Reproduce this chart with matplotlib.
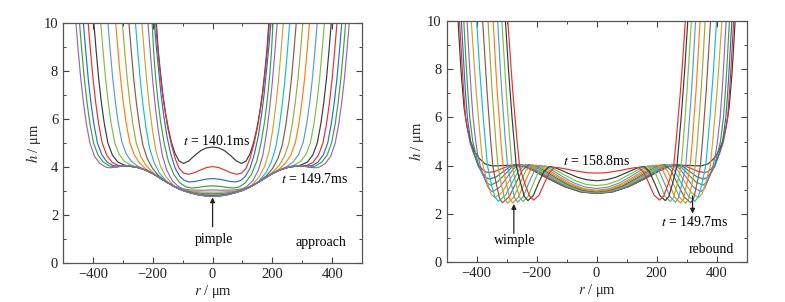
import numpy as np
import matplotlib
matplotlib.use('Agg')
import matplotlib.pyplot as plt
from matplotlib.ticker import MultipleLocator

plt.rcParams['font.family'] = ['Liberation Serif', 'DejaVu Serif']
plt.rcParams['mathtext.fontset'] = 'stix'
plt.rcParams['font.size'] = 10

# colour cycle used for the film profiles
palette = ['#3a3a3a', '#e8302c', '#2b6fc0', '#3ca03c', '#9467bd', '#d2a034',
           '#17becf', '#8c564b', '#a3a83a', '#ff7f0e', '#5b9bd5', '#7cc142']

# === approach: t = 140.1 ... 149.7 ms, right half of each profile (r >= 0) ===
approach_r = [
    [0, 20, 40, 60, 80, 97, 112, 125, 137, 148, 158, 167, 175, 182, 188, 194],
    [0, 20, 40, 60, 80, 97, 112, 125, 138, 150, 160, 169, 177, 184, 190, 196],
    [0, 20, 40, 60, 78, 95, 110, 125, 140, 153, 164, 173, 181, 189, 195, 201],
    [0, 25, 50, 70, 90, 110, 130, 148, 162, 174, 183, 191, 197, 202, 208],
    [0, 25, 50, 75, 100, 115, 135, 153, 168, 180, 190, 199, 207, 215, 223],
    [0, 25, 50, 75, 100, 125, 136, 156, 174, 189, 201, 211, 220, 228, 236, 244],
    [0, 25, 50, 75, 100, 125, 150, 158, 178, 196, 211, 223, 233, 242, 250, 258, 266],
    [0, 25, 50, 75, 100, 125, 150, 180, 200, 218, 233, 245, 255, 264, 272, 280, 288],
    [0, 25, 50, 75, 100, 125, 150, 175, 202, 222, 240, 255, 267, 277, 286, 294, 302, 310],
    [0, 25, 50, 75, 100, 125, 150, 175, 200, 224, 244, 262, 277, 289, 299, 308, 316, 324, 332],
    [0, 25, 50, 75, 100, 125, 150, 175, 200, 225, 250, 270, 288, 303, 315, 325, 334, 342, 350, 358],
    [0, 25, 50, 75, 100, 125, 150, 175, 200, 225, 250, 274, 294, 312, 327, 339, 349, 358, 366, 374, 382],
    [0, 25, 50, 75, 100, 125, 150, 175, 200, 225, 250, 275, 297, 317, 335, 350, 362, 372, 381, 389, 397, 405],
    [0, 25, 50, 75, 100, 125, 150, 175, 200, 225, 250, 275, 300, 316, 336, 354, 369, 381, 391, 400, 408, 416, 424],
    [0, 25, 50, 75, 100, 125, 150, 175, 200, 225, 250, 275, 300, 332, 352, 370, 385, 397, 407, 416, 424, 432, 440],
    [0, 25, 50, 75, 100, 125, 150, 175, 200, 225, 250, 275, 300, 325, 345, 365, 383, 398, 410, 420, 429, 437, 445, 453],
    [0, 25, 50, 75, 100, 125, 150, 175, 200, 225, 250, 275, 300, 325, 345, 357, 377, 395, 410, 422, 432, 441, 449, 457, 465],
]
approach_h = [
    [4.83, 4.80, 4.68, 4.48, 4.25, 4.15, 4.25, 4.55, 5.0, 5.6, 6.3, 7.1, 8.0, 8.9, 10.0, 11.3],
    [4.02, 3.98, 3.88, 3.77, 3.70, 3.75, 3.95, 4.35, 4.95, 5.65, 6.4, 7.2, 8.1, 9.0, 10.0, 11.3],
    [3.52, 3.50, 3.45, 3.40, 3.38, 3.45, 3.62, 3.95, 4.55, 5.3, 6.2, 7.1, 8.1, 9.1, 10.0, 11.3],
    [3.22, 3.20, 3.15, 3.13, 3.18, 3.35, 3.70, 4.25, 5.0, 5.9, 6.8, 7.8, 8.8, 10.0, 11.3],
    [3.05, 3.04, 3.04, 3.05, 3.10, 3.20, 3.44, 3.87, 4.49, 5.38, 6.35, 7.42, 8.57, 9.82, 11.3],
    [2.96, 2.96, 2.98, 3.01, 3.08, 3.19, 3.31, 3.60, 4.03, 4.65, 5.54, 6.50, 7.55, 8.69, 9.92, 11.3],
    [2.90, 2.91, 2.93, 2.98, 3.06, 3.18, 3.35, 3.47, 3.76, 4.20, 4.80, 5.67, 6.61, 7.65, 8.78, 10.0, 11.3],
    [2.87, 2.88, 2.91, 2.97, 3.05, 3.18, 3.35, 3.64, 3.93, 4.34, 4.91, 5.76, 6.69, 7.71, 8.83, 10.03, 11.3],
    [2.85, 2.86, 2.90, 2.96, 3.05, 3.18, 3.35, 3.54, 3.80, 4.06, 4.44, 4.99, 5.82, 6.73, 7.73, 8.83, 10.03, 11.3],
    [2.83, 2.84, 2.89, 2.95, 3.04, 3.17, 3.35, 3.54, 3.73, 3.93, 4.16, 4.51, 5.03, 5.83, 6.73, 7.72, 8.81, 10.0, 11.3],
    [2.82, 2.84, 2.88, 2.95, 3.04, 3.17, 3.35, 3.54, 3.73, 3.88, 4.04, 4.22, 4.53, 5.03, 5.81, 6.70, 7.70, 8.80, 10.0, 11.3],
    [2.81, 2.83, 2.87, 2.94, 3.04, 3.17, 3.35, 3.54, 3.73, 3.88, 3.98, 4.09, 4.23, 4.52, 5.0, 5.8, 6.7, 7.7, 8.8, 10.0, 11.3],
    [2.80, 2.82, 2.86, 2.94, 3.03, 3.17, 3.35, 3.54, 3.73, 3.88, 3.98, 4.03, 4.09, 4.21, 4.5, 5.0, 5.8, 6.7, 7.7, 8.8, 10.0, 11.3],
    [2.79, 2.81, 2.86, 2.93, 3.03, 3.17, 3.35, 3.54, 3.73, 3.88, 3.98, 4.03, 4.03, 4.07, 4.2, 4.5, 5.0, 5.8, 6.7, 7.7, 8.8, 10.0, 11.3],
    [2.79, 2.81, 2.86, 2.93, 3.03, 3.17, 3.35, 3.54, 3.73, 3.88, 3.98, 4.03, 4.03, 4.06, 4.2, 4.5, 5.0, 5.8, 6.7, 7.7, 8.8, 10.0, 11.3],
    [2.78, 2.80, 2.85, 2.93, 3.03, 3.17, 3.35, 3.54, 3.73, 3.88, 3.98, 4.04, 4.04, 4.0, 4.05, 4.2, 4.5, 5.0, 5.8, 6.7, 7.7, 8.8, 10.0, 11.3],
    [2.78, 2.80, 2.85, 2.93, 3.03, 3.17, 3.35, 3.54, 3.73, 3.88, 3.99, 4.07, 4.05, 3.99, 3.97, 4.0, 4.15, 4.45, 5.0, 5.8, 6.7, 7.7, 8.8, 10.0, 11.3],
]

# === rebound: t = 149.7 ... 158.8 ms ===
rebound_r = [
    [0, 54, 108, 162, 216, 243, 270, 300, 330, 350, 372, 391, 407, 420, 432, 442, 452, 462, 468],
    [0, 54, 108, 162, 216, 243, 270, 292, 315, 338, 360, 370, 380, 386, 393, 410, 423, 437, 443, 448, 457, 463],
    [0, 53, 106, 160, 213, 239, 266, 289, 312, 335, 358, 369, 380, 388, 395, 408, 420, 431, 437, 442, 451, 457],
    [0, 52, 104, 156, 208, 234, 260, 284, 307, 331, 354, 366, 377, 385, 393, 403, 413, 423, 429, 434, 443, 449],
    [0, 51, 101, 152, 202, 228, 253, 277, 301, 324, 348, 360, 372, 380, 388, 397, 403, 412, 418, 423, 432, 438],
    [0, 49, 98, 147, 196, 220, 245, 269, 292, 316, 340, 352, 363, 371, 379, 387, 394, 401, 407, 418, 424],
    [0, 47, 94, 142, 189, 212, 236, 259, 282, 305, 328, 339, 350, 357, 364, 371, 378, 384, 390, 400, 406],
    [0, 45, 90, 136, 181, 203, 226, 248, 270, 292, 314, 324, 333, 340, 346, 353, 359, 365, 370, 380, 386],
    [0, 43, 86, 129, 172, 194, 215, 236, 256, 277, 297, 307, 316, 323, 329, 336, 342, 348, 353, 362, 368],
    [0, 41, 81, 122, 162, 183, 203, 222, 242, 261, 280, 290, 299, 306, 312, 319, 325, 331, 336, 345, 351],
    [0, 38, 76, 114, 152, 171, 190, 208, 227, 245, 263, 273, 283, 290, 297, 304, 310, 316, 321, 330, 336],
    [0, 35, 70, 105, 140, 158, 175, 193, 211, 228, 246, 257, 268, 275, 282, 289, 295, 301, 306, 316, 322],
    [0, 32, 63, 95, 126, 142, 158, 176, 194, 211, 229, 241, 252, 260, 268, 275, 282, 288, 294, 304, 310],
    [0, 28, 56, 84, 112, 126, 140, 157, 175, 192, 210, 224, 238, 248, 257, 265, 272, 279, 285, 296, 302],
]
rebound_h = [
    [2.85, 2.92, 3.14, 3.47, 3.83, 3.97, 4.02, 4.02, 4.0, 4.0, 4.08, 4.3, 4.6, 5.0, 5.6, 6.4, 7.9, 10.0, 11.5],
    [2.86, 2.93, 3.15, 3.48, 3.84, 3.99, 4.05, 4.0, 3.89, 3.77, 3.72, 3.75, 3.85, 3.92, 4.0, 4.5, 5.0, 6.0, 7.0, 8.0, 10.0, 11.5],
    [2.86, 2.93, 3.15, 3.48, 3.84, 3.99, 4.05, 3.96, 3.75, 3.54, 3.45, 3.52, 3.70, 3.85, 4.0, 4.5, 5.0, 6.0, 7.0, 8.0, 10.0, 11.5],
    [2.87, 2.94, 3.15, 3.48, 3.84, 3.99, 4.05, 3.92, 3.63, 3.33, 3.20, 3.30, 3.56, 3.78, 4.0, 4.5, 5.0, 6.0, 7.0, 8.0, 10.0, 11.5],
    [2.88, 2.95, 3.16, 3.49, 3.84, 3.99, 4.05, 3.88, 3.49, 3.10, 2.93, 3.06, 3.41, 3.70, 4.0, 4.5, 5.0, 6.0, 7.0, 8.0, 10.0, 11.5],
    [2.89, 2.96, 3.17, 3.49, 3.84, 3.99, 4.05, 3.84, 3.37, 2.89, 2.68, 2.84, 3.27, 3.63, 4.0, 5.0, 6.0, 7.0, 8.0, 10.0, 11.5],
    [2.90, 2.97, 3.18, 3.50, 3.84, 3.99, 4.05, 3.82, 3.29, 2.76, 2.53, 2.71, 3.19, 3.59, 4.0, 5.0, 6.0, 7.0, 8.0, 10.0, 11.5],
    [2.92, 2.99, 3.19, 3.51, 3.85, 3.99, 4.05, 3.81, 3.26, 2.71, 2.47, 2.66, 3.18, 3.57, 4.0, 5.0, 6.0, 7.0, 8.0, 10.0, 11.5],
    [2.95, 3.02, 3.21, 3.52, 3.84, 3.99, 4.04, 3.80, 3.25, 2.69, 2.45, 2.64, 3.14, 3.57, 4.0, 5.0, 6.0, 7.0, 8.0, 10.0, 11.5],
    [2.99, 3.05, 3.24, 3.53, 3.84, 3.98, 4.03, 3.79, 3.25, 2.70, 2.46, 2.64, 3.15, 3.57, 4.0, 5.0, 6.0, 7.0, 8.0, 10.0, 11.5],
    [3.06, 3.12, 3.29, 3.56, 3.85, 3.97, 4.02, 3.79, 3.26, 2.72, 2.49, 2.67, 3.17, 3.58, 4.0, 5.0, 6.0, 7.0, 8.0, 10.0, 11.5],
    [3.18, 3.23, 3.38, 3.61, 3.85, 3.96, 4.0, 3.78, 3.26, 2.74, 2.52, 2.70, 3.19, 3.59, 4.0, 5.0, 6.0, 7.0, 8.0, 10.0, 11.5],
    [3.38, 3.42, 3.52, 3.69, 3.86, 3.94, 3.97, 3.76, 3.27, 2.77, 2.56, 2.73, 3.21, 3.60, 4.0, 5.0, 6.0, 7.0, 8.0, 10.0, 11.5],
    [3.70, 3.71, 3.76, 3.82, 3.89, 3.92, 3.93, 3.73, 3.26, 2.78, 2.58, 2.75, 3.22, 3.60, 4.0, 5.0, 6.0, 7.0, 8.0, 10.0, 11.5],
]

fig = plt.figure(figsize=(7.85, 3.02), dpi=100)
ax1 = fig.add_axes([0.0803, 0.128, 0.381, 0.797])
ax2 = fig.add_axes([0.569, 0.131, 0.382, 0.800])


def draw_profiles(ax, r_list, h_list):
    # profiles are axisymmetric: mirror the right half onto r < 0
    for j, (r, h) in enumerate(zip(r_list, h_list)):
        r = np.array(r, dtype=float)
        h = np.array(h, dtype=float)
        rr = np.concatenate([-r[::-1], r[1:]])
        hh = np.concatenate([h[::-1], h[1:]])
        ax.plot(rr, hh, color=palette[j % len(palette)], lw=0.85)


def style_axes(ax):
    ax.set_xlim(-500, 500)
    ax.set_ylim(0, 10)
    ax.xaxis.set_major_locator(MultipleLocator(200))
    ax.xaxis.set_minor_locator(MultipleLocator(100))
    ax.yaxis.set_major_locator(MultipleLocator(2))
    ax.yaxis.set_minor_locator(MultipleLocator(1))
    ax.tick_params(which='both', direction='in', top=True, right=True,
                   colors='#444444', labelcolor='#222222', labelsize=10.5)
    ax.tick_params(which='major', length=4, width=0.8)
    ax.tick_params(which='minor', length=2.5, width=0.7)
    for s in ax.spines.values():
        s.set_color('#555555')
        s.set_linewidth(0.9)
    ax.set_xlabel(r'$r$ / μm', fontsize=10.5, labelpad=1, color='#222222')
    ax.set_ylabel(r'$h$ / μm', fontsize=10.5, labelpad=0.5, color='#222222')


draw_profiles(ax1, approach_r, approach_h)
draw_profiles(ax2, rebound_r, rebound_h)
style_axes(ax1)
style_axes(ax2)

arrow = dict(arrowstyle='-|>', color='#222222', lw=0.9, mutation_scale=7,
             shrinkA=0, shrinkB=0)

# --- approach labels ---
ax1.text(15, 5.1, r'$t$ = 140.1ms', ha='center', va='center', fontsize=10)
ax1.text(340, 3.49, r'$t$ = 149.7ms', ha='center', va='center', fontsize=10)
ax1.annotate('', xy=(0, 2.74), xytext=(0, 1.52), arrowprops=arrow)
ax1.text(6, 0.99, 'pimple', ha='center', va='center', fontsize=10)
ax1.text(363, 0.87, 'approach', ha='center', va='center', fontsize=10)

# --- rebound labels ---
ax2.text(2, 4.2, r'$t$ = 158.8ms', ha='center', va='center', fontsize=10)
ax2.annotate('', xy=(-276, 2.42), xytext=(-276, 1.2), arrowprops=arrow)
ax2.text(-274, 0.89, 'wimple', ha='center', va='center', fontsize=10)
ax2.annotate('', xy=(320, 2.02), xytext=(320, 2.75), arrowprops=arrow)
ax2.text(327, 1.68, r'$t$ = 149.7ms', ha='center', va='center', fontsize=10)
ax2.text(383, 0.54, 'rebound', ha='center', va='center', fontsize=10)

fig.savefig('out.png', dpi=100)
